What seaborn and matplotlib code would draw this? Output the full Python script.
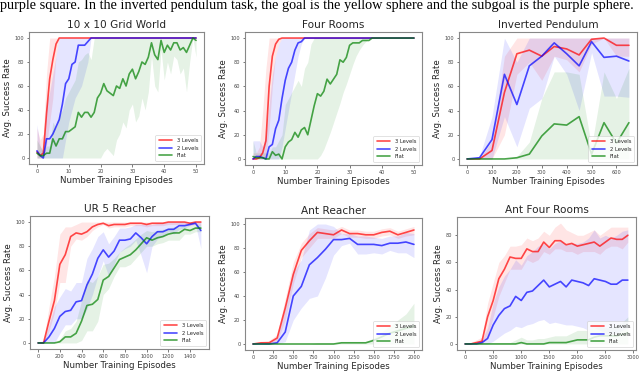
import matplotlib
matplotlib.use("Agg")
import matplotlib.pyplot as plt
import numpy as np
import seaborn as sns

sns.set_style("white")
plt.rcParams['font.family'] = ['DejaVu Sans']

labels = ["3 Levels", "2 Levels", "Flat"]
colors = ["red", "blue", "green"]

# --- 10 x 10 Grid World (episodes 0..50)
grid_x = list(range(0, 51))
grid_3 = [5, 2, 4, 37, 66, 82, 95] + [100] * 44
grid_3_lo = [0, 0, 0, 10, 30, 50, 85] + [100] * 44
grid_3_hi = [25, 15, 20, 70] + [100] * 47
grid_2 = [6, 2, 0, 16, 16, 20, 26, 32, 45, 62, 66, 78, 80, 94, 94, 94, 97] + [100] * 34
grid_2_lo = [0, 0, 0, 0, 0, 0, 0, 0, 0, 15, 30, 40, 50, 55, 60, 70, 80] + [100] * 34
grid_2_hi = [28, 10, 5, 45, 55, 70, 85] + [100] * 44
grid_f = [4, 2, 2, 4, 4, 16, 10, 16, 16, 22, 22, 24, 26, 38, 34, 38, 38, 34, 38, 50,
          54, 62, 56, 54, 52, 60, 58, 66, 60, 70, 74, 66, 72, 80, 78, 84, 96, 86, 82, 98,
          88, 94, 90, 96, 96, 90, 92, 88, 94, 100, 98]
grid_f_lo = [0] * 21 + [5, 8, 5, 2, 15, 20, 30, 25, 40, 45, 30, 35, 50, 40, 55, 85, 60, 55, 90,
                        65, 80, 70, 85, 82, 70, 75, 55, 80, 100, 84]
grid_f_hi = [15, 10, 5, 10, 10, 30, 25, 35, 40, 50, 55, 60, 65, 80, 82, 86, 88, 82] + [100] * 33

# --- Four Rooms (episodes 0..50)
four_x = list(range(0, 51))
four_3 = [0, 0, 1, 5, 15, 60, 85, 95, 99] + [100] * 42
four_3_lo = [0, 0, 0, 0, 0, 25, 60, 85, 95] + [100] * 42
four_3_hi = [5, 5, 10, 40, 75] + [100] * 46
four_2 = [0, 2, 2, 1, 0, 10, 12, 25, 32, 50, 65, 75, 80, 90, 96, 97] + [100] * 35
four_2_lo = [0, 0, 0, 0, 0, 0, 0, 0, 0, 10, 25, 40, 55, 70, 85, 95] + [100] * 35
four_2_hi = [15, 15, 15, 10, 20, 45, 70, 85, 95] + [100] * 42
four_f = [2, 1, 1, 1, 0, 0, 6, 3, 4, 0, 10, 14, 16, 22, 18, 24, 26, 20, 32, 44,
          54, 52, 56, 66, 62, 66, 70, 82, 80, 84, 94, 96, 96, 96, 98, 98, 98] + [100] * 14
four_f_lo = [0] * 21 + [3, 8, 15, 22, 30, 38, 46, 55, 62, 70, 78, 85, 90, 94, 97] + [100] * 15
four_f_hi = [15, 5, 5, 5, 5, 5, 10, 10, 15, 20, 45, 50, 55, 60, 65, 60, 75, 80, 95] + [100] * 32

# --- Inverted Pendulum (episodes 0..650)
pend_x = list(range(0, 651, 50))
pend_3 = [0, 0, 7, 55, 87, 90, 85, 93, 91, 86, 99, 100, 94, 94]
pend_3_lo = [0, 0, 0, 20, 70, 80, 65, 85, 82, 72, 95, 100, 85, 85]
pend_3_hi = [0, 0, 15, 85, 100, 100, 100, 100, 100, 100, 100, 100, 100, 100]
pend_2 = [0, 1, 16, 70, 45, 77, 85, 96, 87, 77, 97, 84, 85, 81]
pend_2_lo = [0, 0, 0, 35, 10, 42, 50, 85, 70, 40, 88, 52, 52, 51]
pend_2_hi = [0, 2, 35, 100, 80, 100, 100, 100, 100, 100, 100, 100, 100, 100]
pend_f = [0, 0, 0, 0, 1, 4, 19, 29, 28, 35, 4, 30, 13, 30]
pend_f_lo = [0] * 14
pend_f_hi = [0, 0, 0, 0, 2, 14, 50, 72, 72, 70, 10, 72, 50, 75]

# --- UR 5 Reacher (episodes 0..1500)
ur5_x = list(range(0, 1501, 50))
ur5_3 = [0, 0, 18, 35, 65, 73, 88, 91, 90, 92, 96, 98, 99, 97, 98, 98, 98, 99, 99, 99,
         98, 99, 99, 99, 100, 100, 100, 100, 99, 100, 100]
ur5_3_lo = [0, 0, 10, 25, 50, 50, 80, 86, 85, 88, 93, 96, 98, 95, 96, 96, 96, 97, 97, 97,
            96, 97, 97, 97, 98, 98, 98, 98, 97, 98, 98]
ur5_3_hi = [0, 2, 30, 55, 90, 96, 96, 98] + [100] * 23
ur5_2 = [0, 0, 5, 12, 22, 26, 27, 34, 35, 48, 57, 70, 77, 71, 76, 85, 85, 86, 91, 87,
         82, 88, 92, 92, 94, 94, 97, 97, 98, 99, 93]
ur5_2_lo = [0, 0, 0, 0, 8, 15, 15, 20, 20, 28, 40, 55, 68, 55, 65, 75, 78, 80, 85, 72,
            58, 80, 86, 88, 92, 90, 94, 95, 97, 98, 78]
ur5_2_hi = [0, 2, 15, 30, 38, 45, 43, 50, 50, 70, 78, 88, 92, 82, 88, 95, 95, 96, 98, 98,
            98, 98, 99, 99] + [100] * 7
ur5_f = [0, 0, 0, 0, 1, 5, 5, 8, 18, 31, 32, 36, 52, 55, 62, 69, 71, 73, 77, 82,
         87, 85, 87, 88, 90, 91, 91, 94, 93, 95, 95]
ur5_f_lo = [0, 0, 0, 0, 0, 0, 0, 0, 2, 10, 10, 18, 40, 45, 55, 63, 63, 65, 70, 75,
            80, 80, 82, 83, 85, 85, 85, 90, 90, 92, 92]
ur5_f_hi = [0, 0, 0, 0, 3, 10, 12, 18, 35, 52, 50, 55, 65, 66, 70, 75, 79, 82, 86, 90,
            93, 92, 93, 94, 95, 96, 96, 97, 97, 98, 98]

# --- Ant Reacher (episodes 0..2000)
antr_x = list(range(0, 2001, 100))
antr_3 = [0, 1, 1, 5, 30, 58, 78, 86, 93, 92, 91, 95, 92, 92, 91, 91, 93, 94, 91, 93, 95]
antr_3_lo = [0, 0, 0, 2, 20, 50, 72, 80, 88, 88, 88, 92, 89, 89, 88, 88, 90, 91, 88, 90, 91]
antr_3_hi = [0, 2, 3, 8, 38, 68, 84, 92, 97, 96, 95, 98, 95, 95, 94, 94, 96, 97, 94, 96, 98]
antr_2 = [0, 0, 0, 1, 10, 40, 48, 66, 72, 79, 87, 87, 88, 83, 83, 83, 82, 84, 84, 85, 83]
antr_2_lo = [0, 0, 0, 0, 2, 20, 30, 38, 40, 55, 74, 82, 84, 75, 75, 76, 75, 78, 76, 76, 72]
antr_2_hi = [0, 0, 1, 5, 30, 60, 70, 95, 100, 100, 98, 92, 92, 90, 90, 89, 88, 90, 90, 93, 92]
antr_f = [0, 0, 0, 0, 0, 0, 0, 0, 0, 0, 0, 1, 1, 1, 1, 3, 6, 9, 11, 13, 15]
antr_f_lo = [0] * 21
antr_f_hi = [0, 0, 0, 0, 0, 0, 0, 0, 1, 1, 1, 2, 2, 2, 2, 5, 10, 15, 20, 25, 34]

# --- Ant Four Rooms (episodes 0..2900)
antf_x = list(range(0, 2901, 100))
antf_3 = [0, 0, 1, 2, 20, 32, 48, 55, 64, 63, 63, 70, 68, 68, 75, 71, 76, 76, 73, 74,
          72, 73, 74, 75, 72, 75, 78, 77, 77, 80]
antf_3_lo = [0, 0, 0, 0, 5, 20, 35, 45, 55, 55, 55, 62, 60, 62, 68, 66, 70, 70, 68, 68,
             66, 68, 68, 68, 66, 70, 72, 72, 70, 75]
antf_3_hi = [0, 1, 3, 5, 30, 45, 60, 65, 72, 72, 73, 78, 76, 78, 83, 80, 86, 89, 84, 82,
             80, 80, 82, 84, 80, 83, 86, 86, 86, 86]
antf_2 = [0, 0, 0, 1, 4, 14, 21, 26, 28, 35, 32, 38, 39, 43, 47, 42, 44, 46, 42, 47,
          46, 45, 43, 48, 47, 46, 44, 44, 47, 47]
antf_2_lo = [0, 0, 0, 0, 0, 2, 5, 8, 10, 13, 12, 14, 15, 17, 18, 15, 16, 15, 14, 14,
             13, 12, 10, 12, 10, 8, 7, 8, 10, 12]
antf_2_hi = [0, 0, 1, 3, 12, 30, 42, 50, 55, 62, 58, 65, 68, 72, 74, 70, 74, 76, 73, 74,
             74, 75, 78, 84, 78, 80, 78, 80, 83, 84]
antf_f = [0, 0, 0, 0, 0, 0, 0, 0, 0, 0, 1, 0, 0, 0, 0, 1, 1, 1, 1, 2,
          3, 3, 3, 5, 6, 6, 6, 6, 7, 8]
antf_f_lo = [0] * 30
antf_f_hi = [1, 1, 1, 1, 1, 1, 1, 1, 1, 3, 5, 3, 3, 4, 4, 5, 6, 6, 6, 8,
             10, 10, 10, 12, 13, 12, 12, 14, 16, 20]

panels = [
    ("10 x 10 Grid World", grid_x, [(grid_3, grid_3_lo, grid_3_hi), (grid_2, grid_2_lo, grid_2_hi), (grid_f, grid_f_lo, grid_f_hi)], range(0, 51, 10), range(0, 101, 20)),
    ("Four Rooms", four_x, [(four_3, four_3_lo, four_3_hi), (four_2, four_2_lo, four_2_hi), (four_f, four_f_lo, four_f_hi)], range(0, 51, 10), range(0, 101, 20)),
    ("Inverted Pendulum", pend_x, [(pend_3, pend_3_lo, pend_3_hi), (pend_2, pend_2_lo, pend_2_hi), (pend_f, pend_f_lo, pend_f_hi)], range(0, 601, 100), range(0, 101, 20)),
    ("UR 5 Reacher", ur5_x, [(ur5_3, ur5_3_lo, ur5_3_hi), (ur5_2, ur5_2_lo, ur5_2_hi), (ur5_f, ur5_f_lo, ur5_f_hi)], range(0, 1401, 200), range(0, 101, 20)),
    ("Ant Reacher", antr_x, [(antr_3, antr_3_lo, antr_3_hi), (antr_2, antr_2_lo, antr_2_hi), (antr_f, antr_f_lo, antr_f_hi)], range(0, 2001, 250), range(0, 101, 20)),
    ("Ant Four Rooms", antf_x, [(antf_3, antf_3_lo, antf_3_hi), (antf_2, antf_2_lo, antf_2_hi), (antf_f, antf_f_lo, antf_f_hi)], range(0, 3001, 500), range(0, 81, 20)),
]

# axes boxes in pixels: left, right, top, bottom
boxes = [(29, 204, 32, 164), (245, 422, 32, 165), (459, 637, 32, 165),
         (30, 209, 216, 349), (245, 422, 218, 350), (457, 636, 217, 350)]

W, H = 640, 372
fig = plt.figure(figsize=(6.4, 3.72), dpi=100)

# caption line from the page above, clipped at the top edge as in the source
fig.text(0.0, 1 - 8.5 / H, "purple square. In the inverted pendulum task, the goal is the yellow sphere and the subgoal is the purple sphere.",
         family="Liberation Serif", fontsize=10.25, ha="left", va="baseline", color="black")

for (title, xs, series, xt, yt), (l, r, t, b) in zip(panels, boxes):
    ax = fig.add_axes([l / W, 1 - b / H, (r - l) / W, (b - t) / H])
    for (mean, lo, hi), lab, c in zip(series, labels, colors):
        ax.fill_between(xs, lo, hi, color=c, alpha=0.1, linewidth=0)
        sns.lineplot(x=xs, y=mean, ax=ax, color=c, alpha=0.7, linewidth=1.2, label=lab)
    ax.set_title(title, fontsize=7.6, pad=3)
    ax.set_xlabel("Number Training Episodes", fontsize=6.2, labelpad=2)
    ax.set_ylabel("Avg. Success Rate", fontsize=6.2, labelpad=2)
    ax.set_xticks(list(xt))
    ax.set_yticks(list(yt))
    ax.margins(x=0.05, y=0.05)
    ax.tick_params(axis="both", labelsize=3.6, length=1.8, width=0.5, pad=1.5,
                   colors="#444444", bottom=True, left=True)
    for s in ax.spines.values():
        s.set_color("#888888")
        s.set_linewidth(0.8)
    leg = ax.legend(loc="lower right", fontsize=3.8, frameon=True, handlelength=2.6,
                    borderpad=0.6, labelspacing=0.5, handletextpad=0.8)
    leg.get_frame().set_edgecolor("#cccccc")
    leg.get_frame().set_linewidth(0.5)

fig.savefig("out.png", dpi=100)
